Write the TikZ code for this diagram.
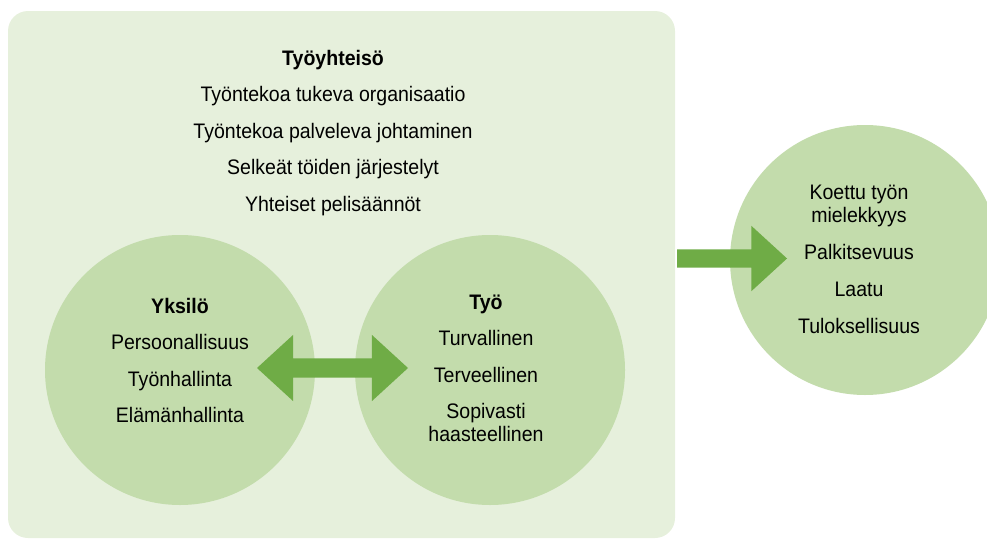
\documentclass[tikz,border=0pt]{standalone}
\usepackage{fontspec}
\setmainfont[FakeStretch=0.93]{Liberation Sans}
\usetikzlibrary{shapes.arrows,positioning}

\definecolor{bgGreen}{HTML}{E6F0DC}
\definecolor{ringGreen}{HTML}{C3DCAC}
\definecolor{arrowGreen}{HTML}{6FAC46}

\tikzset{
  txt/.style={inner sep=0pt, text height=15pt, text depth=4pt, font=\fontsize{21}{25}\selectfont},
  head/.style={txt, font=\bfseries\fontsize{21}{25}\selectfont},
  ring/.style={circle, fill=ringGreen, minimum size=270pt, inner sep=0pt},
}

\begin{document}
\begin{tikzpicture}[x=1pt, y=-1pt, node distance=36.5pt]
\clip (0,0) rectangle (987,538);
\fill[bgGreen, rounded corners=20pt] (8,11) rectangle (675,538);

\node[ring] (yksilo) at (180,370) {};
\node[ring] (tyo) at (490,370) {};
\node[ring] (tulos) at (865,260) {};

\node[double arrow, fill=arrowGreen, inner sep=0pt, inner ysep=9.5pt, minimum height=151pt,
      double arrow head extend=23.5pt, double arrow tip angle=85] (vuoro) at (332.5,368) {};
\node[single arrow, fill=arrowGreen, inner sep=0pt, inner ysep=9pt, minimum height=110pt,
      single arrow head extend=23.5pt, single arrow tip angle=85] (vaikutus) at (727,258.5) {};

% tyoyhteiso
\node[head] (T0) at (333,59.5) {Työyhteisö};
\node[txt, below of=T0] (T1) {Työntekoa tukeva organisaatio};
\node[txt, below of=T1] (T2) {Työntekoa palveleva johtaminen};
\node[txt, below of=T2] (T3) {Selkeät töiden järjestelyt};
\node[txt, below of=T3] (T4) {Yhteiset pelisäännöt};

% yksilo
\node[head] (Y0) at (180,307.5) {Yksilö};
\node[txt, below of=Y0] (Y1) {Persoonallisuus};
\node[txt, below of=Y1] (Y2) {Työnhallinta};
\node[txt, below of=Y2] (Y3) {Elämänhallinta};

% tyo
\node[head] (W0) at (486,303.5) {Työ};
\node[txt, below of=W0] (W1) {Turvallinen};
\node[txt, below of=W1] (W2) {Terveellinen};
\node[txt, below of=W2] (W3) {Sopivasti};
\node[txt, below of=W3, node distance=23pt] (W4) {haasteellinen};

% tulokset
\node[txt] (R0) at (859,193.5) {Koettu työn};
\node[txt, below of=R0, node distance=23pt] (R1) {mielekkyys};
\node[txt, below of=R1, node distance=37pt] (R2) {Palkitsevuus};
\node[txt, below of=R2, node distance=37pt] (R3) {Laatu};
\node[txt, below of=R3, node distance=37pt] (R4) {Tuloksellisuus};
\end{tikzpicture}
\end{document}
